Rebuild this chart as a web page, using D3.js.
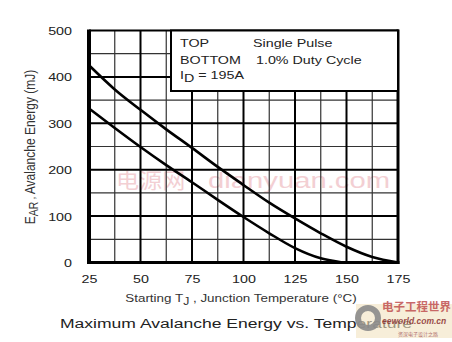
<!DOCTYPE html>
<html>
<head>
<meta charset="utf-8">
<script src="https://cdn.jsdelivr.net/npm/d3@7/dist/d3.min.js"></script>
<style>
  html, body { margin: 0; padding: 0; background: #fff; }
  svg { display: block; }
  text { font-family: "Liberation Sans", Arial, sans-serif; fill: #222; }
</style>
</head>
<body>
<svg id="chart" width="452" height="342"></svg>
<script>
// ---- data ----
const temps = [25, 37.5, 50, 62.5, 75, 87.5, 100, 112.5, 125, 137.5, 150, 162.5, 175];
const singlePulse = [425, 373, 329, 287, 247, 206, 167, 129, 95, 63, 34, 12, 0];
const dutyTemps = [25, 37.5, 50, 62.5, 75, 87.5, 100, 112.5, 125, 137.5, 148];
const dutyCycle = [332, 290, 249, 210, 173, 135, 98, 63, 31, 9, 0];
const xTicks = [25, 50, 75, 100, 125, 150, 175];
const yTicks = [0, 100, 200, 300, 400, 500];
const legendLines = [["TOP", "Single Pulse"], ["BOTTOM", "1.0% Duty Cycle"]];

const svg = d3.select("#chart");
const L = 89, R = 398, T = 30.5, B = 262.5;
const SX = 1.3; // horizontal stretch of text in the reference

const x = d3.scaleLinear().domain([25, 175]).range([L, R]);
const y = d3.scaleLinear().domain([0, 500]).range([B, T]);

// ---- watermark (behind grid) ----
const wm = svg.append("g").attr("opacity", 0.5);
wm.append("text").attr("transform", `translate(116,188) scale(1.1,1)`)
  .style("font-family", "'Noto Sans CJK SC', sans-serif").style("font-size", "21px")
  .style("fill", "#e8a0a8").text("电源网");
wm.append("text").attr("transform", `translate(208,188) scale(1.33,1)`)
  .style("font-size", "22px").style("fill", "#e8a0a8").text("dianyuan.com");

// ---- grid ----
const minorX = d3.range(25 + 12.5, 175, 25);
const minorY = d3.range(50, 500, 100);
const grid = svg.append("g");
grid.selectAll("line.mx").data(minorX).join("line")
  .attr("x1", d => x(d)).attr("x2", d => x(d)).attr("y1", T).attr("y2", B)
  .attr("stroke", "#333").attr("stroke-width", 1.2);
grid.selectAll("line.my").data(minorY).join("line")
  .attr("y1", d => y(d)).attr("y2", d => y(d)).attr("x1", L).attr("x2", R)
  .attr("stroke", "#333").attr("stroke-width", 1.2);
grid.selectAll("line.Mx").data(xTicks.slice(1, -1)).join("line")
  .attr("x1", d => x(d)).attr("x2", d => x(d)).attr("y1", T).attr("y2", B)
  .attr("stroke", "#000").attr("stroke-width", 2);
grid.selectAll("line.My").data(yTicks.slice(1, -1)).join("line")
  .attr("y1", d => y(d)).attr("y2", d => y(d)).attr("x1", L).attr("x2", R)
  .attr("stroke", "#000").attr("stroke-width", 2);

// ---- curves ----
const line = d3.line().x(d => x(d[0])).y(d => y(d[1])).curve(d3.curveMonotoneX);
svg.append("path").datum(temps.map((t, i) => [t, singlePulse[i]]))
  .attr("d", line).attr("fill", "none").attr("stroke", "#000").attr("stroke-width", 2.6);
svg.append("path").datum(dutyTemps.map((t, i) => [t, dutyCycle[i]]))
  .attr("d", line).attr("fill", "none").attr("stroke", "#000").attr("stroke-width", 2.6);

// ---- frame ----
svg.append("line").attr("x1", L).attr("x2", R).attr("y1", T).attr("y2", T).attr("stroke", "#000").attr("stroke-width", 2);
svg.append("line").attr("x1", R).attr("x2", R).attr("y1", T - 1).attr("y2", B + 1.5).attr("stroke", "#000").attr("stroke-width", 3);
svg.append("line").attr("x1", L - 2).attr("x2", R + 1.5).attr("y1", B).attr("y2", B).attr("stroke", "#000").attr("stroke-width", 3);
svg.append("line").attr("x1", L).attr("x2", L).attr("y1", T - 1).attr("y2", B + 1.5).attr("stroke", "#000").attr("stroke-width", 4);

// ---- legend box ----
const lg = svg.append("g");
lg.append("rect").attr("x", 171).attr("y", T).attr("width", R - 171).attr("height", 60.5)
  .attr("fill", "#fff").attr("stroke", "#000").attr("stroke-width", 2);
legendLines.forEach((pair, i) => {
  lg.append("text").attr("transform", `translate(180,${47 + i * 17}) scale(${SX},1)`)
    .style("font-size", "11px").text(pair[0]);
  lg.append("text").attr("transform", `translate(${i === 0 ? 253 : 256},${47 + i * 17}) scale(${SX},1)`)
    .style("font-size", "11px").text(pair[1]);
});
const idt = lg.append("text").attr("transform", `translate(180,79) scale(${SX},1)`).style("font-size", "11px");
idt.append("tspan").text("I");
idt.append("tspan").attr("dy", 3).text("D");
idt.append("tspan").attr("dy", -3).text(" = 195A");

// ---- axes ----
const xAxis = svg.append("g").attr("transform", `translate(0,${B})`)
  .call(d3.axisBottom(x).tickValues(xTicks).tickSize(0).tickPadding(0).tickFormat(d3.format("d")));
xAxis.select(".domain").remove();
xAxis.selectAll("text").attr("y", 0).attr("dy", 0)
  .attr("transform", `translate(0,20.5) scale(${SX},1)`)
  .style("font-size", "11px").style("font-family", "'Liberation Sans', Arial, sans-serif").attr("fill", "#333");

const yAxis = svg.append("g").attr("transform", `translate(72,0)`)
  .call(d3.axisLeft(y).tickValues(yTicks).tickSize(0).tickPadding(0).tickFormat(d3.format("d")));
yAxis.select(".domain").remove();
yAxis.selectAll("text").attr("x", 0).attr("dy", 0)
  .attr("transform", `translate(0,4) scale(${SX},1)`)
  .style("font-size", "11px").style("font-family", "'Liberation Sans', Arial, sans-serif").attr("fill", "#333");

// ---- axis titles ----
const xl = svg.append("text").attr("transform", `translate(241,302) scale(1.22,1)`)
  .attr("text-anchor", "middle").style("font-size", "11px").style("fill", "#333");
xl.append("tspan").text("Starting T");
xl.append("tspan").attr("dy", 3).style("font-size", "10px").text("J");
xl.append("tspan").attr("dy", -3).text(" , Junction Temperature (°C)");

const yl = svg.append("text").attr("transform", `translate(35,147) scale(1.15,1) rotate(-90)`)
  .attr("text-anchor", "middle").style("font-size", "12px").style("fill", "#333");
yl.append("tspan").text("E");
yl.append("tspan").attr("dy", 3).style("font-size", "10.5px").text("AR");
yl.append("tspan").attr("dy", -3).style("font-size", "9px").text(" , ");
yl.append("tspan").text("Avalanche Energy (mJ)");

svg.append("text").attr("transform", `translate(60,328) scale(1.3,1)`)
  .style("font-size", "13.5px").style("fill", "#222").text("Maximum Avalanche Energy vs. Temperature");

// ---- logo watermark (semi-transparent, over the title end like the reference) ----
const logo = svg.append("g");
logo.append("rect").attr("x", 356).attr("y", 304).attr("width", 96).attr("height", 34).attr("fill", "#f1e2c0").attr("opacity", 0.6);
logo.append("circle").attr("cx", 368).attr("cy", 318).attr("r", 10).attr("fill", "none").attr("stroke", "#8a8a8a").attr("stroke-width", 6).attr("opacity", 0.9);
logo.append("text").attr("x", 382).attr("y", 311).style("font-family", "'Noto Sans CJK SC', sans-serif")
  .style("font-size", "11.5px").style("font-weight", "bold").style("fill", "#c05050").attr("opacity", 0.85).text("电子工程世界");
logo.append("text").attr("x", 382).attr("y", 324).style("font-size", "8.5px").style("font-style", "italic")
  .style("font-weight", "bold").style("fill", "#8a3030").attr("opacity", 0.85).text("eeworld.com.cn");
logo.append("text").attr("x", 398).attr("y", 336).style("font-family", "'Noto Sans CJK SC', sans-serif")
  .style("font-size", "5px").style("fill", "#b07070").text("资深电子设计之路");
</script>
</body>
</html>
